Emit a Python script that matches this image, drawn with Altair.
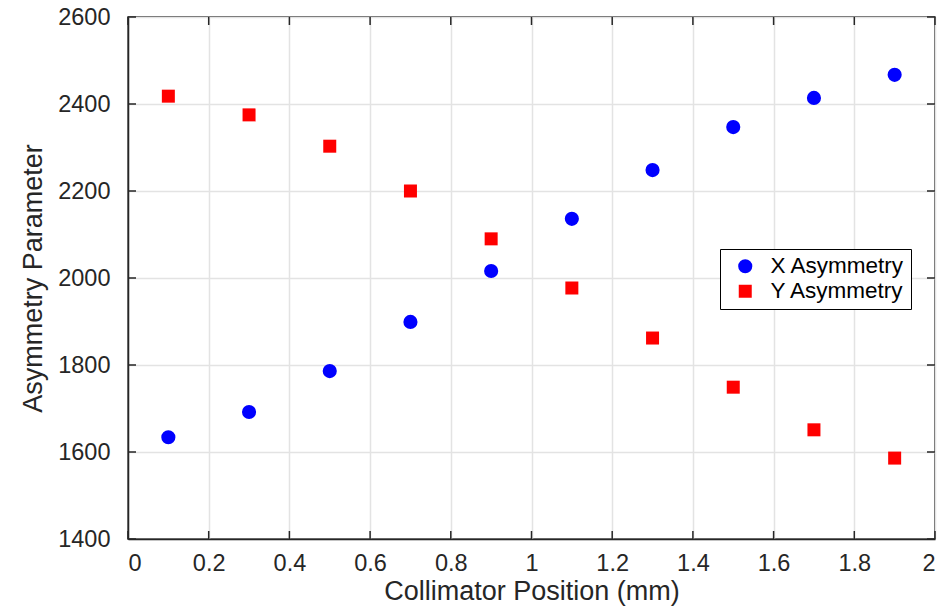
import altair as alt
import pandas as pd

positions = [0.1, 0.3, 0.5, 0.7, 0.9, 1.1, 1.3, 1.5, 1.7, 1.9]
x_asym = [1634, 1692, 1786, 1899, 2016, 2136, 2248, 2347, 2414, 2467]
y_asym = [2418, 2375, 2303, 2200, 2090, 1977, 1862, 1749, 1651, 1586]
series_names = ["X Asymmetry", "Y Asymmetry"]
x_ticks = [0, 0.2, 0.4, 0.6, 0.8, 1, 1.2, 1.4, 1.6, 1.8, 2]
y_ticks = [1400, 1600, 1800, 2000, 2200, 2400, 2600]

W, H = 807, 522
FONT = "Liberation Sans"

df = pd.DataFrame({
    "pos": positions * 2,
    "val": x_asym + y_asym,
    "series": [series_names[0]] * len(positions) + [series_names[1]] * len(positions),
})
xt = pd.DataFrame({"t": x_ticks})
yt = pd.DataFrame({"t": y_ticks})

xscale = alt.Scale(domain=[0, 2], nice=False)
yscale = alt.Scale(domain=[1400, 2600], nice=False, zero=False)

points = alt.Chart(df).mark_point(filled=True, opacity=1, strokeWidth=0).encode(
    x=alt.X("pos:Q", scale=xscale, title="Collimator Position (mm)",
            axis=alt.Axis(values=x_ticks, labelExpr="'' + datum.value")),
    y=alt.Y("val:Q", scale=yscale, title="Asymmetry Parameter",
            axis=alt.Axis(values=y_ticks, format="d")),
    color=alt.Color("series:N", scale=alt.Scale(domain=series_names, range=["#0000ff", "#ff0000"]),
                    legend=alt.Legend(title=None, orient="none", legendX=592, legendY=232,
                                      strokeColor="#000000", fillColor="#ffffff", padding=6,
                                      labelFont=FONT, labelFontSize=22.5, labelColor="#000000",
                                      symbolSize=60, rowPadding=2, labelOffset=14,
                                      symbolOffset=8)),
    shape=alt.Shape("series:N", scale=alt.Scale(domain=series_names, range=["circle", "square"])),
    size=alt.Size("series:N", scale=alt.Scale(domain=series_names, range=[200, 169]), legend=None),
)

left_ticks = alt.Chart(yt).mark_rule(color="#262626", strokeWidth=1.5).encode(
    y=alt.Y("t:Q", scale=yscale), x=alt.value(0), x2=alt.value(8))
right_ticks = alt.Chart(yt).mark_rule(color="#262626", strokeWidth=1.5).encode(
    y=alt.Y("t:Q", scale=yscale), x=alt.value(W - 8), x2=alt.value(W))
bottom_ticks = alt.Chart(xt).mark_rule(color="#262626", strokeWidth=1.5).encode(
    x=alt.X("t:Q", scale=xscale), y=alt.value(H), y2=alt.value(H - 8))
top_ticks = alt.Chart(xt).mark_rule(color="#262626", strokeWidth=1.5).encode(
    x=alt.X("t:Q", scale=xscale), y=alt.value(0), y2=alt.value(8))

chart = alt.layer(left_ticks, right_ticks, bottom_ticks, top_ticks, points).properties(
    width=W, height=H,
    autosize=alt.AutoSizeParams(type="none"),
    padding={"left": 128, "top": 17, "right": 10, "bottom": 71},
).configure_view(stroke="#262626", strokeWidth=1.5).configure_axis(
    labelFont=FONT, titleFont=FONT, labelFontSize=23.5, titleFontSize=27,
    labelColor="#262626", titleColor="#262626", titleFontWeight="normal",
    gridColor="#e3e3e3", gridWidth=1.5, domainColor="#262626", domainWidth=1.5,
    ticks=False,
).configure_axisY(labelPadding=18, titlePadding=10).configure_axisX(labelPadding=12, titlePadding=4)

chart.save("out.html", embed_options={"renderer": "svg", "actions": False})
